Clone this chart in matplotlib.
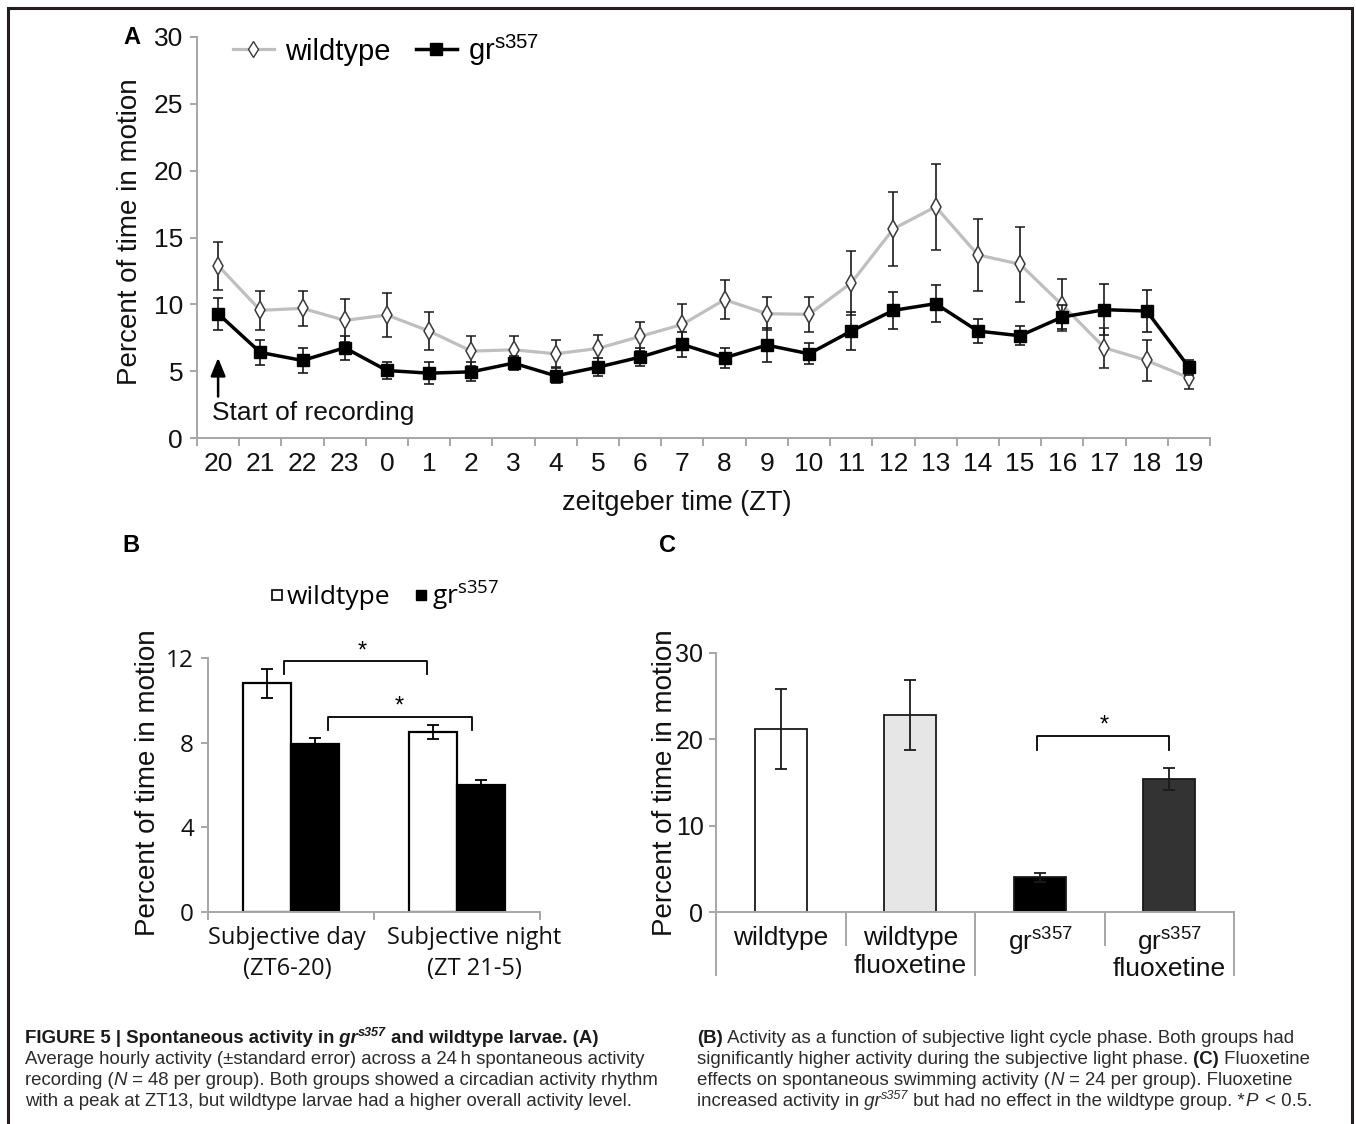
import matplotlib
matplotlib.use('Agg')
import matplotlib.pyplot as plt
from matplotlib.lines import Line2D
from matplotlib.patches import Rectangle
from matplotlib.transforms import ScaledTranslation
import numpy as np

W, H, DPI = 1356, 1124, 100

# ---------------- data ----------------
zt_labels = ['20', '21', '22', '23', '0', '1', '2', '3', '4', '5', '6', '7',
             '8', '9', '10', '11', '12', '13', '14', '15', '16', '17', '18', '19']
wt_mean = [12.9, 9.55, 9.7, 8.8, 9.2, 8.0, 6.5, 6.6, 6.3, 6.7, 7.6, 8.5,
           10.35, 9.3, 9.25, 11.6, 15.65, 17.3, 13.7, 13.0, 9.95, 6.75, 5.8, 4.5]
wt_err = [1.8, 1.45, 1.3, 1.6, 1.65, 1.45, 1.15, 1.05, 1.0, 1.0, 1.1, 1.5,
          1.45, 1.25, 1.3, 2.4, 2.75, 3.2, 2.7, 2.8, 1.95, 1.5, 1.5, 0.85]
gr_mean = [9.3, 6.4, 5.8, 6.75, 5.05, 4.85, 4.95, 5.6, 4.65, 5.3, 6.05, 7.0,
           6.0, 6.95, 6.3, 8.0, 9.55, 10.05, 8.0, 7.65, 9.05, 9.6, 9.5, 5.3]
gr_err = [1.2, 0.95, 0.9, 0.9, 0.6, 0.8, 0.7, 0.5, 0.55, 0.65, 0.7, 0.95,
          0.75, 1.3, 0.8, 1.4, 1.4, 1.4, 0.9, 0.7, 0.9, 1.9, 1.55, 0.55]

GR = r'gr$^{\mathregular{s357}}$'
phase_labels = ['Subjective day\n(ZT6-20)', 'Subjective night\n(ZT 21-5)']
b_wt_mean = [10.8, 8.5]
b_wt_err = [0.7, 0.35]
b_gr_mean = [7.95, 5.98]
b_gr_err = [0.27, 0.24]

c_labels = ['wildtype', 'wildtype\nfluoxetine', GR, GR + '\nfluoxetine']
c_mean = [21.2, 22.8, 4.0, 15.4]
c_err = [4.65, 4.05, 0.5, 1.25]
c_colors = ['white', '#e6e6e6', 'black', '#333333']

# ---------------- style ----------------
plt.rcParams['font.family'] = ['Liberation Sans', 'DejaVu Sans']
plt.rcParams['mathtext.fontset'] = 'custom'
plt.rcParams['mathtext.rm'] = 'Liberation Sans'
plt.rcParams['mathtext.it'] = 'Liberation Sans:italic'
plt.rcParams['mathtext.bf'] = 'Liberation Sans:bold'
AX = '#a6a6a6'
TXT = '#111111'
CAPF = ['Liberation Sans Narrow', 'Liberation Sans', 'DejaVu Sans']

fig = plt.figure(figsize=(W / DPI, H / DPI), dpi=DPI)
fig.patch.set_facecolor('white')


def axes_px(l, t, r, b):
    return fig.add_axes([l / W, 1 - b / H, (r - l) / W, (b - t) / H])


def style_axes(ax):
    for s in ['top', 'right']:
        ax.spines[s].set_visible(False)
    for s in ['left', 'bottom']:
        ax.spines[s].set_color(AX)
        ax.spines[s].set_linewidth(1.4)
    ax.patch.set_alpha(0)


def ftext(x, y, s, **kw):
    return fig.text(x / W, 1 - y / H, s, **kw)

# ---------------- panel A ----------------
axA = axes_px(197, 37, 1210, 438)
style_axes(axA)
xa = np.arange(len(zt_labels))
axA.errorbar(xa, wt_mean, yerr=wt_err, color='#bfbfbf', lw=2.3, marker='d', ms=9,
             mfc='white', mec='#3a3a3a', mew=1.1, ecolor='#1a1a1a', elinewidth=1.2,
             capsize=3.8, capthick=1.2, zorder=2)
axA.errorbar(xa, gr_mean, yerr=gr_err, color='black', lw=2.5, marker='s', ms=8.5,
             mfc='black', mec='black', ecolor='#1a1a1a', elinewidth=1.2,
             capsize=3.8, capthick=1.2, zorder=3)
axA.set_xlim(-0.5, len(zt_labels) - 0.5)
axA.set_ylim(0, 30)
axA.set_yticks(np.arange(0, 31, 5))
axA.set_xticks(xa)
axA.set_xticklabels(zt_labels)
axA.set_xticks(np.arange(-0.5, len(zt_labels), 1), minor=True)
axA.tick_params(axis='x', which='major', length=0, pad=10, labelsize=19, labelcolor=TXT)
axA.tick_params(axis='x', which='minor', length=6, width=1.4, color=AX)
axA.tick_params(axis='y', length=5, width=1.4, color=AX, labelsize=19, pad=5, labelcolor=TXT)

axA.annotate('', xy=(0, 6.0), xytext=(0, 3.1),
             arrowprops=dict(arrowstyle='-|>,head_length=1.1,head_width=0.45',
                             color='black', lw=1.8, shrinkA=0, shrinkB=0))
axA.text(-0.15, 1.9, 'Start of recording', fontsize=19, va='center', ha='left', color=TXT)

legA = [Line2D([], [], color='#bfbfbf', lw=2.3, marker='d', ms=8, mfc='white',
               mec='#3a3a3a', mew=1.0),
        Line2D([], [], color='black', lw=2.5, marker='s', ms=8.5, mfc='black')]
fig.legend(legA, ['wildtype', GR], loc='center left',
           bbox_to_anchor=(233 / W, 1 - 50 / H), bbox_transform=fig.transFigure,
           ncol=2, frameon=False, fontsize=21, handlelength=1.4, handletextpad=0.4,
           columnspacing=0.85, borderpad=0, borderaxespad=0)

ftext(130, 232, 'Percent of time in motion', rotation=90, fontsize=20,
      ha='center', va='center', color=TXT)
ftext(677, 503, 'zeitgeber time (ZT)', fontsize=19.5, ha='center', va='center', color=TXT)
ftext(132, 37, 'A', fontsize=17, fontweight='bold', ha='center', va='center')

# ---------------- panel B ----------------
axB = axes_px(208, 658, 540, 912)
style_axes(axB)
xb = np.arange(len(phase_labels))
bw = 0.287
axB.bar(xb - bw / 2, b_wt_mean, bw, color='white', edgecolor='black', lw=1.6, zorder=2)
axB.bar(xb + bw / 2, b_gr_mean, bw, color='black', edgecolor='black', lw=1.6, zorder=2)
axB.errorbar(xb - bw / 2, b_wt_mean, yerr=b_wt_err, fmt='none', ecolor='black',
             elinewidth=1.3, capsize=4.5, capthick=1.3, zorder=3)
axB.errorbar(xb + bw / 2, b_gr_mean, yerr=b_gr_err, fmt='none', ecolor='black',
             elinewidth=1.3, capsize=4.5, capthick=1.3, zorder=3)
axB.set_xlim(-0.5, len(phase_labels) - 0.5)
axB.set_ylim(0, 12)
axB.set_yticks([0, 4, 8, 12])
axB.set_xticks(xb)
axB.set_xticklabels(phase_labels, linespacing=1.4)
axB.set_xticks(np.arange(-0.5, len(phase_labels), 1), minor=True)
axB.tick_params(axis='x', which='major', length=0, pad=10, labelsize=17, labelcolor=TXT)
axB.tick_params(axis='x', which='minor', length=6, width=1.4, color=AX)
axB.tick_params(axis='y', length=5, width=1.4, color=AX, labelsize=17.5, pad=5, labelcolor=TXT)
for lbl in axB.get_xticklabels() + axB.get_yticklabels():
    lbl.set_fontfamily(['Open Sans', 'DejaVu Sans'])
shifts = [-0.04, 0.17]
for lbl, dx in zip(axB.get_xticklabels(), shifts):
    lbl.set_transform(lbl.get_transform() + ScaledTranslation(dx, 0, fig.dpi_scale_trans))

# significance brackets
axB.plot([-0.04, -0.04, 0.817, 0.817], [11.23, 11.84, 11.84, 11.23], color='black',
         lw=1.3, clip_on=False)
axB.text(0.43, 12.3, '*', fontsize=17, ha='center', va='center')
axB.plot([0.22, 0.22, 1.09, 1.09], [8.58, 9.2, 9.2, 8.58], color='black', lw=1.3,
         clip_on=False)
axB.text(0.65, 9.7, '*', fontsize=17, ha='center', va='center')

legB = [Line2D([], [], ls='none', marker='s', ms=7, mfc='white', mec='black', mew=1.2),
        Line2D([], [], ls='none', marker='s', ms=7, mfc='black', mec='black')]
fig.legend(legB, ['wildtype', GR], loc='center left',
           bbox_to_anchor=(270 / W, 1 - 596 / H), bbox_transform=fig.transFigure,
           ncol=2, frameon=False, handlelength=0.5, handletextpad=0.15,
           columnspacing=0.9, borderpad=0, borderaxespad=0,
           prop={'family': ['Open Sans', 'DejaVu Sans'], 'size': 19})

ftext(148, 783, 'Percent of time in motion', rotation=90, fontsize=20,
      ha='center', va='center', color=TXT)
ftext(131, 546, 'B', fontsize=17, fontweight='bold', ha='center', va='center')

# ---------------- panel C ----------------
axC = axes_px(716, 653, 1234, 912)
style_axes(axC)
xc = np.arange(len(c_labels))
axC.bar(xc, c_mean, 0.4, color=c_colors, edgecolor='#1a1a1a', lw=1.3, zorder=2)
axC.errorbar(xc, c_mean, yerr=c_err, fmt='none', ecolor='#1a1a1a', elinewidth=1.3,
             capsize=4, capthick=1.3, zorder=3)
axC.set_xlim(-0.5, len(c_labels) - 0.5)
axC.set_ylim(0, 30)
axC.set_yticks([0, 10, 20, 30])
axC.set_xticks(xc)
axC.set_xticklabels(c_labels, linespacing=1.2)
axC.tick_params(axis='x', which='major', length=0, pad=10, labelsize=19, labelcolor=TXT)
axC.tick_params(axis='y', length=5, width=1.4, color=AX, labelsize=18, pad=4, labelcolor=TXT)
for i, lbl in enumerate(axC.get_xticklabels()):
    lbl.set_multialignment('center')
    if '$' in c_labels[i] and '\n' in c_labels[i]:
        lbl.set_linespacing(0.95)
bounds = np.arange(-0.5, len(c_labels), 1)
for i, bx in enumerate(bounds):
    depth = -0.245 if i % 2 == 0 else -0.127
    axC.plot([bx, bx], [0, depth], transform=axC.get_xaxis_transform(),
             color=AX, lw=1.4, clip_on=False)
axC.plot([1.98, 1.98, 3.0, 3.0], [18.8, 20.4, 20.4, 18.8], color='black', lw=1.3,
         clip_on=False)
axC.text(2.5, 21.6, '*', fontsize=17, ha='center', va='center')

ftext(665, 783, 'Percent of time in motion', rotation=90, fontsize=20,
      ha='center', va='center', color=TXT)
ftext(667, 546, 'C', fontsize=17, fontweight='bold', ha='center', va='center')

# ---------------- frame ----------------
fig.patches.append(Rectangle((8 / W, -0.05), (1352 - 8) / W, 1.05 - 8 / H,
                             transform=fig.transFigure, fill=False,
                             edgecolor='#231f20', lw=2.2))

# ---------------- caption ----------------
renderer = fig.canvas.get_renderer()
CS = 13.4


def seg_line(x_px, y_px, segs, color='#2b2b2b'):
    x = x_px
    for s in segs:
        if isinstance(s, str):
            txt, kw = s, {}
        else:
            txt, kw = s
        sz = CS * kw.get('scale', 1.0)
        t = fig.text(x / W, 1 - (y_px - kw.get('dy', 0)) / H, txt, fontsize=sz,
                     fontweight=kw.get('weight', 'normal'),
                     fontstyle=kw.get('style', 'normal'), family=CAPF,
                     color=kw.get('color', color), va='baseline', ha='left')
        x += t.get_window_extent(renderer).width + kw.get('extra', 0)


B = {'weight': 'bold', 'color': '#1a1a1a'}
BI = {'weight': 'bold', 'style': 'italic', 'color': '#1a1a1a'}
BIS = {'weight': 'bold', 'style': 'italic', 'scale': 0.68, 'dy': 7, 'color': '#1a1a1a'}
I = {'style': 'italic'}
IP = {'style': 'italic', 'extra': 3}
IS = {'style': 'italic', 'scale': 0.68, 'dy': 7}

lx, rx = 25, 697
ys = [1043, 1064, 1085, 1106]
seg_line(lx, ys[0], [('FIGURE 5 | Spontaneous activity in', B), (' gr', BI), ('s357', BIS),
                     (' and wildtype larvae. (A)', B)])
seg_line(lx, ys[1], ['Average hourly activity (\u00b1standard error) across a 24\u2009h spontaneous activity'])
seg_line(lx, ys[2], ['recording (', ('N', I), ' = 48 per group). Both groups showed a circadian activity rhythm'])
seg_line(lx, ys[3], ['with a peak at ZT13, but wildtype larvae had a higher overall activity level.'])

seg_line(rx, ys[0], [('(B)', B), ' Activity as a function of subjective light cycle phase. Both groups had'])
seg_line(rx, ys[1], ['significantly higher activity during the subjective light phase.', (' (C)', B), ' Fluoxetine'])
seg_line(rx, ys[2], ['effects on spontaneous swimming activity (', ('N', I), ' = 24 per group). Fluoxetine'])
seg_line(rx, ys[3], ['increased activity in', (' gr', I), ('s357', IS),
                     ' but had no effect in the wildtype group. *', ('P', IP), ' < 0.5.'])

fig.savefig('out.png', dpi=DPI, facecolor='white')
